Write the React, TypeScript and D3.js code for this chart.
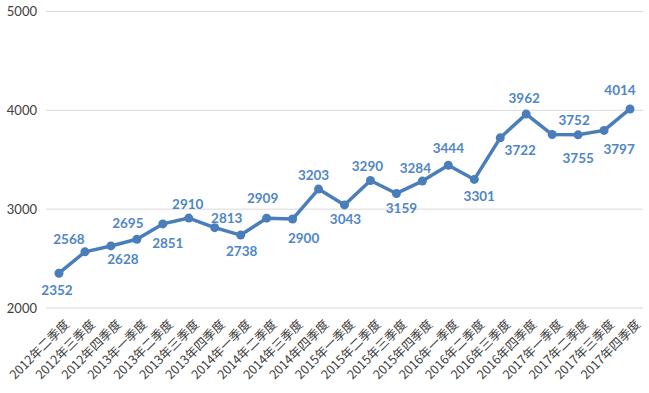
import React from 'react'
import * as d3 from 'd3'

// quarters on the x axis
const quarters = [
  '2012年二季度', '2012年三季度', '2012年四季度',
  '2013年一季度', '2013年二季度', '2013年三季度', '2013年四季度',
  '2014年一季度', '2014年二季度', '2014年三季度', '2014年四季度',
  '2015年一季度', '2015年二季度', '2015年三季度', '2015年四季度',
  '2016年一季度', '2016年二季度', '2016年三季度', '2016年四季度',
  '2017年一季度', '2017年二季度', '2017年三季度', '2017年四季度',
]

const values = [
  2352, 2568, 2628, 2695, 2851, 2910, 2813, 2738, 2909, 2900, 3203, 3043,
  3290, 3159, 3284, 3444, 3301, 3722, 3962, 3755, 3752, 3797, 4014,
]

// hand-placed label nudges [dx, dy] in px, like the original chart
const labelNudge = [
  [-2, 17], [-16, -13], [12, 13], [-9, -16], [5, 19], [-1, -14], [12, -9], [1, 16],
  [-4, -20], [11, 19], [-5, -14], [1, 14], [-3, -14], [5, 15], [-7, -13], [0, -17],
  [5, 17], [20, 12], [-2, -16], [26, 24], [-4, -15], [15, 19], [-10, -19],
]

const yTicks = [2000, 3000, 4000, 5000]

const width = 649
const height = 393
const margin = { top: 11.5, right: 6, bottom: 85, left: 46 }

const lineColor = '#4a7ebb'
const labelColor = '#4f86c6'

export default function App() {
  const data = quarters.map((q, i) => ({ q, v: values[i], nudge: labelNudge[i] }))

  const x = d3.scaleBand()
    .domain(quarters)
    .range([margin.left, width - margin.right])

  const y = d3.scaleLinear()
    .domain([2000, 5000])
    .range([height - margin.bottom, margin.top])

  const cx = (q: string) => (x(q) as number) + x.bandwidth() / 2

  const line = d3.line<{ q: string; v: number }>()
    .x((d) => cx(d.q))
    .y((d) => y(d.v))

  const baseY = y(2000)

  return (
    <svg width={width} height={height}
      style={{ position: 'absolute', left: 0, top: 0, background: '#fff' }}>
      {/* grid + y labels */}
      {yTicks.map((t) => (
        <g key={t}>
          <line x1={margin.left} x2={width - margin.right} y1={y(t)} y2={y(t)}
            stroke="#d9d9d9" strokeWidth={1} />
          <text x={37} y={y(t)} dy="0.35em" textAnchor="end"
            fontFamily="Lato, 'Open Sans', sans-serif" fontSize={13} fill="#404040">
            {t}
          </text>
        </g>
      ))}

      {/* x labels */}
      {quarters.map((q) => (
        <text key={q}
          transform={`translate(${cx(q) + 8},${baseY + 14}) rotate(-45)`}
          textAnchor="end" dy="0.35em"
          fontFamily="'Noto Sans CJK SC', sans-serif" fontSize={12.5} fill="#404040">
          {q}
        </text>
      ))}

      <path d={line(data) || ''} fill="none" stroke={lineColor} strokeWidth={3.5}
        strokeLinejoin="round" />

      {data.map((d) => (
        <circle key={d.q} cx={cx(d.q)} cy={y(d.v)} r={4.5} fill={lineColor} />
      ))}

      {data.map((d) => (
        <text key={'l' + d.q} x={cx(d.q) + d.nudge[0]} y={y(d.v) + d.nudge[1]}
          dy="0.35em" textAnchor="middle" fontFamily="Lato, 'Open Sans', sans-serif"
          fontSize={13.5} fontWeight="bold" fill={labelColor}>
          {d.v}
        </text>
      ))}
    </svg>
  )
}
